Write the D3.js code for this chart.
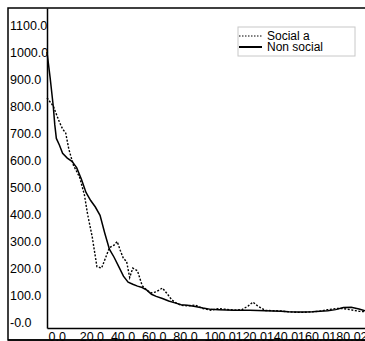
<!DOCTYPE html>
<html>
<head>
<meta charset="utf-8">
<script src="https://cdn.jsdelivr.net/npm/d3@7"></script>
<style>
  body { margin: 0; background: #fff; }
  svg { display: block; font-family: "Liberation Sans", Arial, sans-serif; }
</style>
</head>
<body>
<svg width="365" height="341"></svg>
<script>
// Series values
var socialX = [0, 2, 4, 6, 8, 10, 12, 14, 17, 21, 24, 26, 29, 32, 35, 37, 40, 43, 45, 47, 49, 51, 53, 55, 58, 61, 64, 67, 70, 74, 77, 80, 83, 86, 90, 95, 100, 105, 110, 115, 120, 125, 129, 132, 135, 140, 145, 150, 155, 160, 165, 170, 175, 180, 185, 190, 195, 200, 205];
var socialY = [830, 815, 800, 770, 740, 715, 700, 640, 580, 535, 470, 400, 315, 205, 200, 230, 275, 285, 298, 265, 235, 225, 165, 200, 190, 135, 118, 108, 112, 126, 105, 82, 70, 62, 60, 63, 50, 44, 50, 47, 44, 46, 60, 74, 60, 43, 42, 41, 38, 36, 36, 38, 40, 46, 50, 50, 45, 40, 38];

var nonSocialX = [0, 2, 4, 5, 6, 8, 10, 13, 16, 19, 22, 25, 28, 31, 34, 37, 40, 43, 46, 49, 52, 55, 58, 61, 64, 67, 70, 74, 78, 82, 86, 90, 95, 100, 105, 110, 115, 120, 125, 130, 135, 140, 145, 150, 155, 160, 165, 170, 175, 180, 185, 190, 195, 200, 205];
var nonSocialY = [1000, 905, 800, 730, 680, 655, 625, 607, 595, 572, 530, 480, 450, 426, 395, 330, 270, 240, 205, 170, 148, 140, 133, 128, 118, 103, 95, 87, 78, 71, 64, 62, 58, 52, 47, 46, 45, 44, 44, 44, 43, 42, 41, 40, 38, 37, 37, 38, 40, 42, 46, 54, 55, 48, 40];

var seriesNames = ["Social a", "Non social"];
var yTicks = [0, 100, 200, 300, 400, 500, 600, 700, 800, 900, 1000, 1100];
var yTickLabels = ["-0.0", "100.0", "200.0", "300.0", "400.0", "500.0", "600.0", "700.0", "800.0", "900.0", "1000.0", "1100.0"];
var xTicks = [0, 20, 40, 60, 80, 100, 120, 140, 160, 180, 200];
var xTickLabels = ["0.0", "20.0", "40.0", "60.0", "80.0", "100.0", "120.0", "140.0", "160.0", "180.0", "200.0"];

var svg = d3.select("svg"),
    plotLeft = 47, plotTop = 8, plotBottom = 328;

var x = d3.scaleLinear().domain([0, 210]).range([plotLeft, plotLeft + 210 * 1.56]),
    y = d3.scaleLinear().domain([-22, 1163]).range([plotBottom, plotTop]);

// Outer frame
svg.append("rect")
    .attr("x", 8).attr("y", 8)
    .attr("width", 400).attr("height", 332)
    .attr("fill", "none").attr("stroke", "#000").attr("stroke-width", 1.5);

// Lines
var line = d3.line()
    .x(function(d) { return x(d[0]); })
    .y(function(d) { return y(d[1]); });

var social = socialX.map(function(v, i) { return [v, socialY[i]]; }),
    nonSocial = nonSocialX.map(function(v, i) { return [v, nonSocialY[i]]; });

svg.append("path")
    .datum(social)
    .attr("d", line)
    .attr("fill", "none").attr("stroke", "#000")
    .attr("stroke-width", 1.4).attr("stroke-dasharray", "2,1.6");

svg.append("path")
    .datum(nonSocial)
    .attr("d", line)
    .attr("fill", "none").attr("stroke", "#000")
    .attr("stroke-width", 1.5);

// Y axis
var gy = svg.append("g")
    .attr("transform", "translate(" + plotLeft + ",0)")
    .call(d3.axisLeft(y).tickValues(yTicks).tickSize(0)
        .tickFormat(function(d, i) { return yTickLabels[i]; }));
gy.select(".domain").attr("stroke-width", 1.5);
gy.selectAll("text")
    .attr("x", -37)
    .attr("text-anchor", "start")
    .attr("fill", "#000")
    .style("font-size", "12.5px");

// X axis
var gx = svg.append("g")
    .attr("transform", "translate(0," + plotBottom + ")")
    .call(d3.axisBottom(x).tickValues(xTicks).tickSize(0)
        .tickFormat(function(d, i) { return xTickLabels[i]; }));
gx.select(".domain").attr("stroke-width", 1.5);
gx.selectAll("text")
    .attr("y", 4)
    .attr("dx", 1)
    .attr("text-anchor", "start")
    .attr("fill", "#000")
    .style("font-size", "12.5px");

// bottom frame edge sits over the labels
svg.append("line")
    .attr("x1", 8).attr("x2", 365).attr("y1", 340).attr("y2", 340)
    .attr("stroke", "#000").attr("stroke-width", 1.5);

// Legend
var legend = svg.append("g").attr("transform", "translate(238,27)");
legend.append("rect")
    .attr("width", 117).attr("height", 29)
    .attr("fill", "#fff").attr("stroke", "#c8c8c8");

seriesNames.forEach(function(name, i) {
  var ly = 9 + i * 11;
  legend.append("line")
      .attr("x1", 1).attr("x2", 24).attr("y1", ly).attr("y2", ly)
      .attr("stroke", "#000")
      .attr("stroke-width", i === 0 ? 1 : 2)
      .attr("stroke-dasharray", i === 0 ? "1.5,1.5" : null);
  legend.append("text")
      .attr("x", 29).attr("y", ly)
      .attr("dy", "0.35em")
      .style("font-size", "12px")
      .text(name);
});
</script>
</body>
</html>
